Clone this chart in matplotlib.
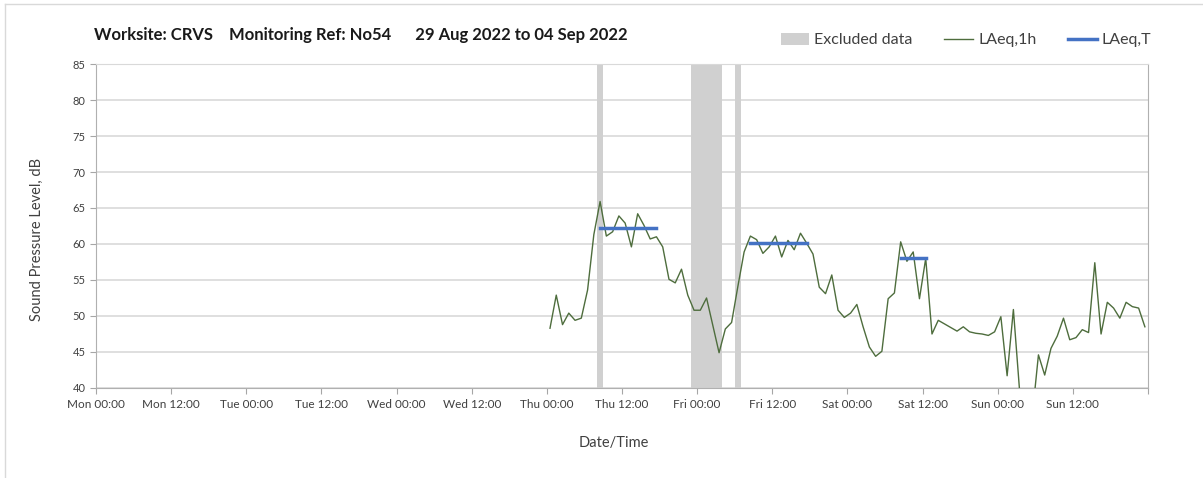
import numpy as np
import pandas as pd
import matplotlib
matplotlib.use('Agg')
import matplotlib.pyplot as plt
import matplotlib.dates as mdates
from matplotlib.patches import Patch
from matplotlib.lines import Line2D

plt.rcParams['font.family'] = ['Lato', 'DejaVu Sans']

title = 'Worksite: CRVS    Monitoring Ref: No54      29 Aug 2022 to 04 Sep 2022'

# hourly LAeq values, first one at Thu 01 Sep 00:30
first_hour = '2022-09-01 00:30'
laeq_1h = [48.3, 52.9, 48.8, 50.4, 49.4, 49.7, 53.6, 61.3, 65.9, 61.1, 61.7, 63.9,
           62.9, 59.6, 64.2, 62.6, 60.7, 61.0, 59.6, 55.1, 54.6, 56.5, 52.9, 50.8,
           50.8, 52.5, 48.7, 44.9, 48.2, 49.1, 54.1, 58.9, 61.1, 60.6, 58.7, 59.6,
           61.1, 58.2, 60.5, 59.2, 61.5, 60.1, 58.6, 54.0, 53.1, 55.7, 50.8, 49.8,
           50.4, 51.6, 48.5, 45.7, 44.4, 45.1, 52.4, 53.2, 60.3, 57.6, 58.9, 52.4,
           58.0, 47.5, 49.4, 48.9, 48.4, 47.9, 48.5, 47.8, 47.6, 47.5, 47.3, 47.8,
           49.9, 41.7, 50.9, 39.5, 37.0, 36.0, 44.6, 41.8, 45.5, 47.2, 49.7, 46.7,
           47.0, 48.1, 47.7, 57.4, 47.5, 51.9, 51.1, 49.7, 51.9, 51.3, 51.1, 48.5]

excl_start = ['2022-09-01 08:00', '2022-09-01 23:00', '2022-09-02 06:00']
excl_end = ['2022-09-01 09:00', '2022-09-02 04:00', '2022-09-02 07:00']

laeqT_start = ['2022-09-01 08:30', '2022-09-02 08:30', '2022-09-03 08:30']
laeqT_end = ['2022-09-01 17:30', '2022-09-02 17:30', '2022-09-03 12:30']
laeqT_val = [62.2, 60.2, 58.1]

times = pd.date_range(first_hour, periods=len(laeq_1h), freq='h')
x_end = pd.Timestamp('2022-09-05')

fig = plt.figure(figsize=(12.03, 4.78), dpi=100)
ax = fig.add_axes([0.0798, 0.1883, 0.8745, 0.6778])

for s, e in zip(excl_start, excl_end):
    ax.axvspan(pd.Timestamp(s), pd.Timestamp(e), color='#d0d0d0', lw=0, zorder=1)

ax.plot(times, laeq_1h, color='#4e6d3d', lw=1.0, zorder=3)
for s, e, v in zip(laeqT_start, laeqT_end, laeqT_val):
    ax.plot([pd.Timestamp(s), pd.Timestamp(e)], [v, v], color='#4472c4', lw=2.5, zorder=4)

def fmt(x, pos):
    d = mdates.num2date(x)
    if x >= mdates.date2num(x_end) - 1e-6:
        return ''
    return d.strftime('%a %H:%M')

ax.set_xlim(pd.Timestamp('2022-08-29'), x_end)
ax.set_ylim(40, 85)
ax.set_yticks(np.arange(40, 86, 5))
ax.xaxis.set_major_locator(mdates.HourLocator(byhour=[0, 12]))
ax.xaxis.set_major_formatter(plt.FuncFormatter(fmt))
ax.xaxis.set_minor_locator(mdates.DayLocator())
ax.grid(True, which='minor', axis='x', color='#d9d9d9', lw=1)
ax.grid(True, which='major', axis='y', color='#d9d9d9', lw=1.2)
ax.set_axisbelow(True)
ax.tick_params(axis='x', which='minor', length=0)
ax.tick_params(axis='both', which='major', length=4, color='#a6a6a6', labelcolor='#404040')
ax.tick_params(axis='x', labelsize=8.5, pad=4)
ax.tick_params(axis='y', labelsize=8)
for sp in ['left', 'bottom', 'right']:
    ax.spines[sp].set_color('#b0b0b0')
ax.spines['top'].set_color('#d9d9d9')

fig.text(0.031, 0.5, 'Sound Pressure Level, dB', rotation=90, ha='center', va='center',
         fontsize=10.5, color='#404040')
fig.text(0.510, 0.073, 'Date/Time', ha='center', va='center', fontsize=10.5, color='#404040')
fig.text(0.078, 0.927, title, ha='left', va='center', fontsize=12, fontweight='bold', color='#1a1a1a')

handles = [Patch(facecolor='#d0d0d0', edgecolor='none'),
           Line2D([], [], color='#4e6d3d', lw=1.0),
           Line2D([], [], color='#4472c4', lw=2.5)]
fig.legend(handles, ['Excluded data', 'LAeq,1h', 'LAeq,T'], loc='center',
           bbox_to_anchor=(0.803, 0.916), ncol=3, frameon=False, fontsize=11.5,
           handlelength=1.8, handleheight=0.8, columnspacing=2.0, handletextpad=0.3,
           labelcolor='#404040')

fig.add_artist(Line2D([0.0042, 1.0], [0.9916, 0.9916], color='#d9d9d9', lw=1))
fig.add_artist(Line2D([0.0042, 0.0042], [0.0, 0.9916], color='#d9d9d9', lw=1))

fig.savefig('out.png', dpi=100)
